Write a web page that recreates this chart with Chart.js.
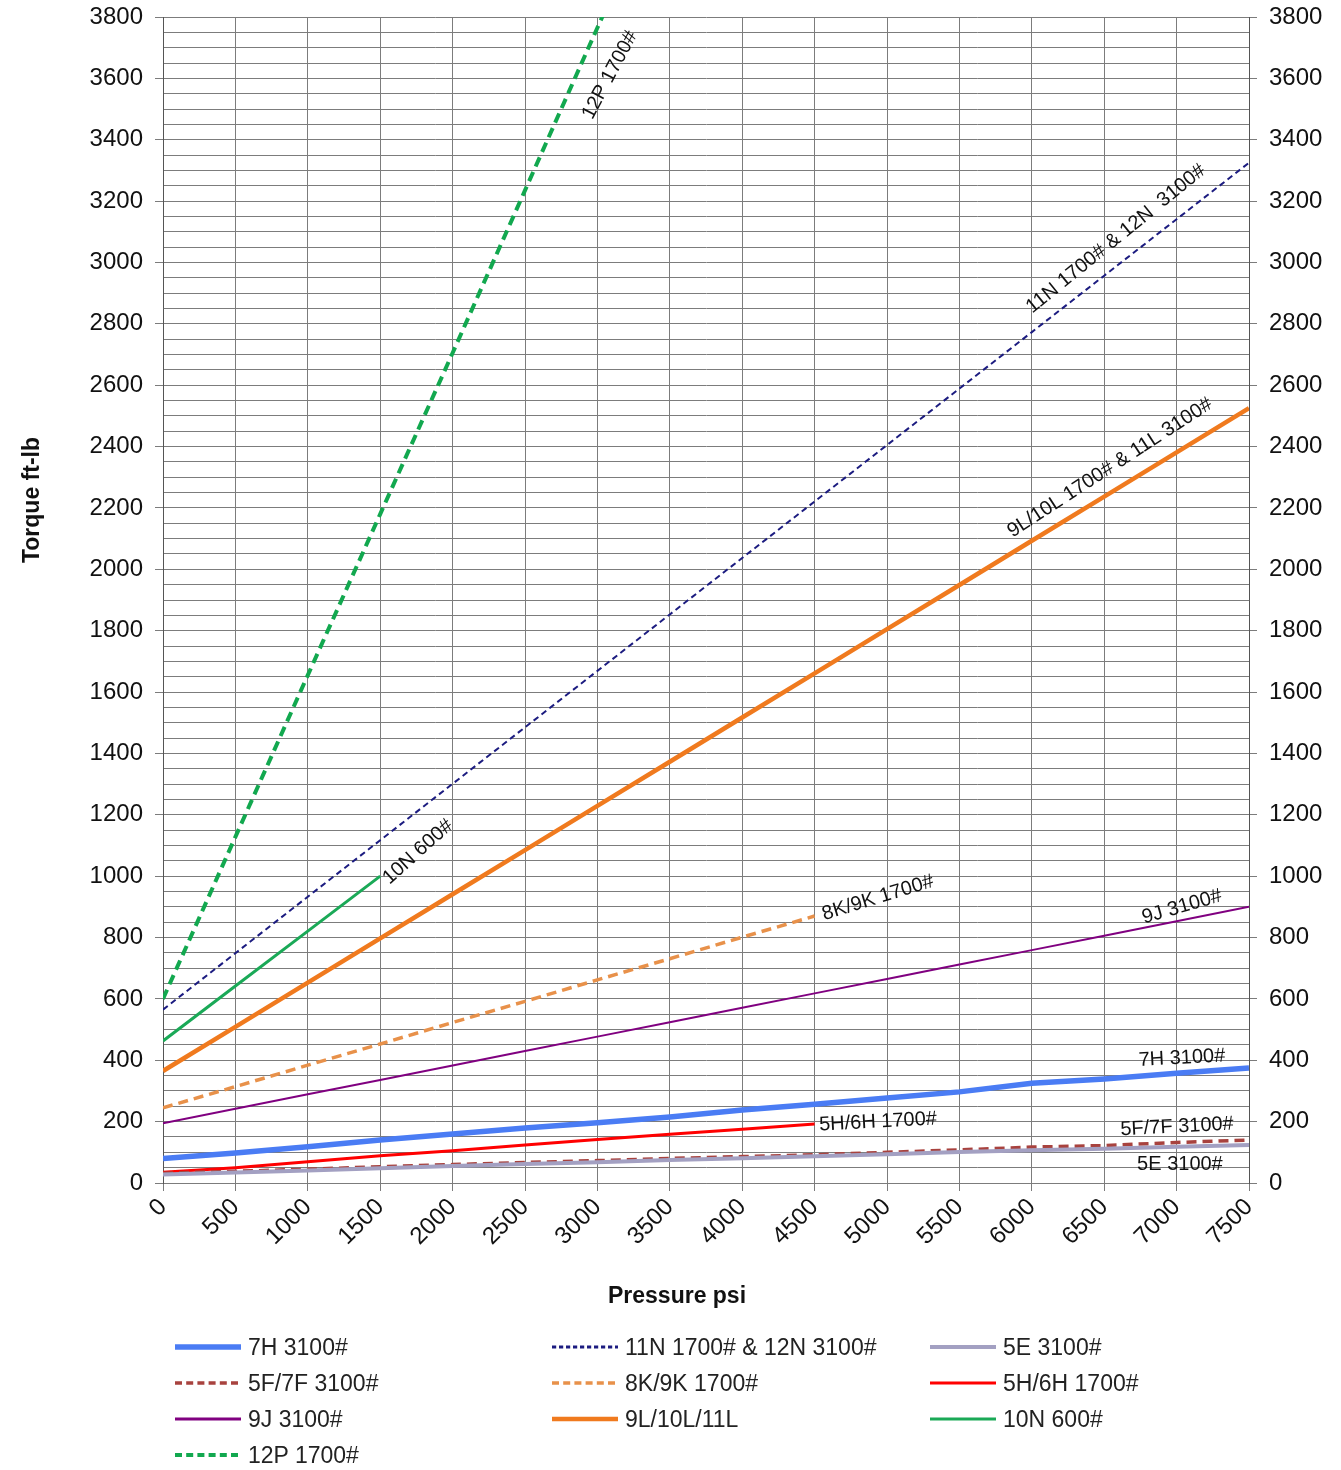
<!DOCTYPE html>
<html>
<head>
<meta charset="utf-8">
<script src="https://cdn.jsdelivr.net/npm/chart.js@4.4.1/dist/chart.umd.min.js"></script>
<style>
  html, body { margin: 0; padding: 0; background: #fff; }
  #wrap { position: relative; width: 1341px; height: 1470px; }
  #legend { position: absolute; left: 0; top: 0; width: 1341px; height: 1470px; pointer-events: none; }
  .item { position: absolute; height: 30px; display: flex; align-items: center;
          font-family: "Liberation Sans", Arial, sans-serif; font-size: 23px; color: #222; }
  .item svg { margin-right: 7px; }
</style>
</head>
<body>
<div id="wrap">
  <canvas id="chartCanvas" width="1341" height="1470"></canvas>
  <div id="legend"></div>
</div>
<script>
// pressure steps (psi)
const pressure = [0, 500, 1000, 1500, 2000, 2500, 3000, 3500, 4000, 4500, 5000, 5500, 6000, 6500, 7000, 7500];

// torque values (ft-lb)
const t7H = [80, 98, 118, 140, 160, 179, 196, 215, 238, 257, 277, 297, 325, 339, 358, 375];
const t11N12N = [565, 749, 933, 1117, 1301, 1485, 1669, 1853, 2037, 2221, 2405, 2589, 2773, 2957, 3141, 3325];
const t5E = [28, 34, 41, 48, 55, 62, 68, 75, 81, 87, 94, 101, 107, 112, 118, 124];
const t5F7F = [32, 38, 45, 53, 60, 67, 73, 80, 86, 92, 100, 108, 117, 122, 132, 140];
const t8K9K = [245, 314, 384, 453, 523, 592, 662, 731, 801, 870];
const t5H6H = [35, 50, 69, 89, 105, 124, 142, 159, 175, 192];
const t9J = [195, 242, 289, 336, 383, 430, 477, 524, 571, 618, 665, 712, 759, 806, 853, 900];
const t9L10L11L = [365, 509, 653, 797, 941, 1085, 1229, 1373, 1517, 1661, 1805, 1949, 2093, 2237, 2381, 2525];
const t10N = [463, 642, 821, 1000];
const t12P = [600, 1128, 1655, 2180, 2705, 3235, 3765, 4290];

const seriesNames = ["7H 3100#", "11N 1700# & 12N 3100#", "5E 3100#", "5F/7F 3100#", "8K/9K 1700#",
  "5H/6H 1700#", "9J 3100#", "9L/10L/11L", "10N 600#", "12P 1700#"];
const seriesValues = [t7H, t11N12N, t5E, t5F7F, t8K9K, t5H6H, t9J, t9L10L11L, t10N, t12P];
const seriesColors = ["#4a7cf4", "#1c1c80", "#a3a0c2", "#a8423e", "#e8914a",
  "#ff0000", "#800080", "#f07a1e", "#1aa957", "#12a84f"];
const seriesWidths = [5.5, 2, 4, 3.5, 3.5, 3, 2, 4.5, 3, 4];
const seriesDashes = [[], [6, 4], [], [10, 6], [10, 6], [], [], [], [], [10, 6]];

// in-chart line labels: text, psi, torque, angle (deg)
const lineLabels = [
  ["12P 1700#", 3087, 3611, -62],
  ["11N 1700# & 12N  3100#", 6581, 3077, -39],
  ["9L/10L 1700# & 11L 3100#", 6540, 2331, -33],
  ["10N 600#", 1761, 1079, -42],
  ["8K/9K 1700#", 4938, 929, -17],
  ["9J 3100#", 7037, 900, -16],
  ["7H 3100#", 7037, 407, -3],
  ["5H/6H 1700#", 4938, 199, -3],
  ["5F/7F 3100#", 7003, 183, -3],
  ["5E 3100#", 7023, 59, 0]
];

const textFont = '"Liberation Sans", Arial, sans-serif';
const gridColor = "#7c7c7c";

const datasets = seriesNames.map((name, i) => ({
  label: name,
  data: seriesValues[i].map((v, j) => ({ x: pressure[j], y: v })),
  borderColor: seriesColors[i],
  backgroundColor: seriesColors[i],
  borderWidth: seriesWidths[i],
  borderDash: seriesDashes[i],
  pointRadius: 0,
  tension: 0,
  fill: false
}));

const extras = {
  id: "extras",
  afterDatasetsDraw(chart) {
    const ctx = chart.ctx;
    const xs = chart.scales.x, ys = chart.scales.y;
    ctx.save();
    ctx.fillStyle = "#111";
    ctx.font = "20px " + textFont;
    ctx.textAlign = "center";
    ctx.textBaseline = "middle";
    lineLabels.forEach(l => {
      ctx.save();
      ctx.translate(xs.getPixelForValue(l[1]), ys.getPixelForValue(l[2]));
      ctx.rotate(l[3] * Math.PI / 180);
      ctx.fillText(l[0], 0, 0);
      ctx.restore();
    });
    ctx.restore();
  },
  afterDraw(chart) {
    const ctx = chart.ctx;
    ctx.save();
    ctx.fillStyle = "#111";
    ctx.font = "bold 23px " + textFont;
    ctx.textAlign = "center";
    ctx.textBaseline = "middle";
    ctx.fillText("Pressure psi", 677, 1297);
    ctx.translate(33, 500);
    ctx.rotate(-Math.PI / 2);
    ctx.fillText("Torque ft-lb", 0, 0);
    ctx.restore();
  }
};

const majorTick = c => (c.tick && c.tick.value % 200 === 0) ? gridColor : "rgba(0,0,0,0)";
const tickFont = { family: textFont, size: 24 };
const fitY = w => s => { s.width = w; s.paddingTop = 6; s.paddingBottom = 6; };

new Chart(document.getElementById("chartCanvas").getContext("2d"), {
  type: "line",
  data: { datasets: datasets },
  options: {
    responsive: false,
    animation: false,
    layout: { padding: { left: 18, right: 0, top: 17, bottom: 160 } },
    plugins: { legend: { display: false }, tooltip: { enabled: false } },
    scales: {
      x: {
        type: "linear", min: 0, max: 7500,
        ticks: { stepSize: 500, minRotation: 45, maxRotation: 45, autoSkip: false,
                 color: "#111", font: tickFont, padding: 2,
                 callback: v => String(v) },
        grid: { color: gridColor, lineWidth: 1, tickLength: 8, tickColor: gridColor },
        border: { color: gridColor },
        afterFit: s => { s.height = 127; }
      },
      y: {
        type: "linear", position: "left", min: 0, max: 3800,
        ticks: { stepSize: 50, autoSkip: false, color: "#111", padding: 12, font: tickFont,
                 callback: v => (v % 200 === 0 ? String(v) : "") },
        grid: { color: gridColor, lineWidth: 1, tickLength: 8, tickColor: majorTick },
        border: { color: "#555" },
        afterFit: fitY(145)
      },
      y2: {
        type: "linear", position: "right", min: 0, max: 3800,
        ticks: { stepSize: 50, autoSkip: false, color: "#111", padding: 12, font: tickFont,
                 callback: v => (v % 200 === 0 ? String(v) : "") },
        grid: { drawOnChartArea: false, tickLength: 8, tickColor: majorTick },
        border: { color: "#555" },
        afterFit: fitY(92)
      }
    }
  },
  plugins: [extras]
});

// legend, three columns, row by row
const legendBox = document.getElementById("legend");
const colLeft = [175, 552, 930];
const rowTop = [1332, 1368, 1404, 1440];
datasets.forEach((ds, i) => {
  const item = document.createElement("div");
  item.className = "item";
  item.style.left = colLeft[i % 3] + "px";
  item.style.top = rowTop[Math.floor(i / 3)] + "px";
  const dash = ds.borderDash.length ? ds.borderDash.map(d => d * 0.7).join(",") : "none";
  item.innerHTML = '<svg width="66" height="10"><line x1="0" y1="5" x2="66" y2="5" stroke="' + ds.borderColor +
    '" stroke-width="' + Math.max(ds.borderWidth, 3) + '" stroke-dasharray="' + dash + '"/></svg>' + ds.label;
  legendBox.appendChild(item);
});
</script>
</body>
</html>
